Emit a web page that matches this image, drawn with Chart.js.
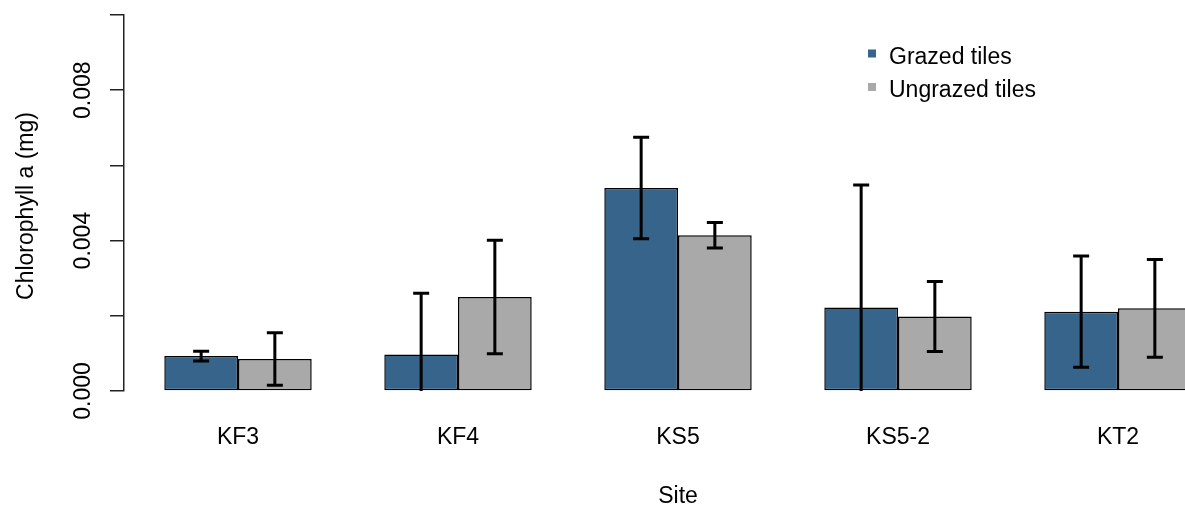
<!DOCTYPE html>
<html>
<head>
<meta charset="utf-8">
<script src="https://cdn.jsdelivr.net/npm/chart.js@4"></script>
<style>
  html, body { margin: 0; padding: 0; background: #fff; overflow: hidden; }
  #wrap { width: 1185px; height: 507px; }
</style>
</head>
<body>
<div id="wrap"><canvas id="c" width="1185" height="507"></canvas></div>
<script>
const categories = ['KF3', 'KF4', 'KS5', 'KS5-2', 'KT2'];
const grazed     = [0.00093, 0.00097, 0.00540, 0.00222, 0.00211];
const grazedSE   = [0.00013, 0.00163, 0.00135, 0.00326, 0.00148];
const ungrazed   = [0.00085, 0.00250, 0.00414, 0.00198, 0.00220];
const ungrazedSE = [0.00070, 0.00151, 0.00034, 0.00093, 0.00130];
const yTickLabels = ['0.000', '0.004', '0.008'];
const seriesNames = ['Grazed tiles', 'Ungrazed tiles'];
const seriesColors = ['#36648B', '#A9A9A9'];
const yTitle = 'Chlorophyll a (mg)';
const xTitle = 'Site';

const FONT = '23px "Liberation Sans", Arial, sans-serif';
const errs = [grazedSE, ungrazedSE];

const overlay = {
  id: 'overlay',
  afterDatasetsDraw(chart) {
    const ctx = chart.ctx, a = chart.chartArea, y = chart.scales.y;
    ctx.save();
    ctx.beginPath();
    ctx.rect(a.left, a.top, a.right - a.left, a.bottom - a.top);
    ctx.clip();
    ctx.strokeStyle = '#000';
    ctx.lineWidth = 3;
    chart.data.datasets.forEach((ds, di) => {
      const meta = chart.getDatasetMeta(di);
      meta.data.forEach((bar, i) => {
        const v = ds.data[i].y, se = errs[di][i];
        const yt = y.getPixelForValue(v + se), yb = y.getPixelForValue(v - se);
        const x = bar.x, h = 8;
        ctx.beginPath();
        ctx.moveTo(x, yt); ctx.lineTo(x, yb);
        ctx.moveTo(x - h, yt); ctx.lineTo(x + h, yt);
        ctx.moveTo(x - h, yb); ctx.lineTo(x + h, yb);
        ctx.stroke();
      });
    });
    ctx.restore();
  },
  afterDraw(chart) {
    const ctx = chart.ctx, y = chart.scales.y, x = chart.scales.x;
    ctx.save();
    ctx.fillStyle = '#000';
    ctx.font = FONT;
    ctx.textBaseline = 'alphabetic';
    y.ticks.forEach(t => {
      const lbl = yTickLabels.find(s => Math.abs(parseFloat(s) - t.value) < 1e-9);
      if (!lbl) return;
      const py = y.getPixelForValue(t.value);
      ctx.save();
      ctx.translate(89.5, py);
      ctx.rotate(-Math.PI / 2);
      ctx.textAlign = 'center';
      ctx.fillText(lbl, 0, 0);
      ctx.restore();
    });
    ctx.save();
    ctx.translate(33, 206);
    ctx.rotate(-Math.PI / 2);
    ctx.textAlign = 'center';
    ctx.fillText(yTitle, 0, 0);
    ctx.restore();
    ctx.textAlign = 'center';
    ctx.fillText(xTitle, x.getPixelForValue(2), 503);
    ctx.textAlign = 'left';
    seriesNames.forEach((n, i) => {
      const cy = 53.5 + i * 33.5;
      ctx.fillStyle = seriesColors[i];
      ctx.fillRect(868, cy - 4, 8, 8);
      ctx.fillStyle = '#000';
      ctx.fillText(n, 889, cy + 10);
    });
    ctx.restore();
  }
};

new Chart(document.getElementById('c'), {
  type: 'bar',
  data: {
    datasets: [
      { label: seriesNames[0], data: grazed.map((v, i) => ({ x: i, y: v })),
        backgroundColor: seriesColors[0], borderColor: '#000', borderWidth: 1.5, borderSkipped: false },
      { label: seriesNames[1], data: ungrazed.map((v, i) => ({ x: i, y: v })),
        backgroundColor: seriesColors[1], borderColor: '#000', borderWidth: 1.5, borderSkipped: false }
    ]
  },
  options: {
    responsive: false,
    animation: false,
    devicePixelRatio: 1,
    categoryPercentage: 0.67,
    barPercentage: 1,
    layout: { padding: { top: 15, left: 0, right: 0, bottom: 0 } },
    plugins: { legend: { display: false }, tooltip: { enabled: false } },
    scales: {
      x: {
        type: 'linear',
        offset: false,
        min: -0.51818,
        max: 4.30455,
        afterBuildTicks: s => { s.ticks = categories.map((_, i) => ({ value: i })); },
        afterFit: s => { s.height = 116; },
        grid: { display: false, offset: false },
        border: { display: false },
        ticks: {
          autoSkip: false, maxRotation: 0, minRotation: 0,
          padding: 25,
          color: '#000',
          font: { family: '"Liberation Sans", Arial, sans-serif', size: 23 },
          callback: v => categories[v]
        }
      },
      y: {
        min: 0,
        max: 0.010,
        afterFit: s => { s.width = 124; },
        ticks: { stepSize: 0.002, display: false },
        grid: { drawOnChartArea: false, drawTicks: true, tickLength: 14, color: '#222', lineWidth: 1.5 },
        border: { display: true, color: '#222', width: 1.5 }
      }
    }
  },
  plugins: [overlay]
});
</script>
</body>
</html>
